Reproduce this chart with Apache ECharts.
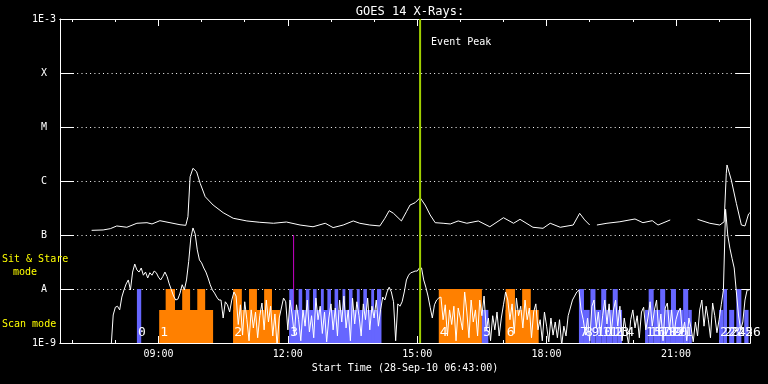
<!DOCTYPE html>
<html><head><meta charset="utf-8">
<script src="https://cdn.jsdelivr.net/npm/echarts@6/dist/echarts.min.js"></script>
<style>html,body{margin:0;padding:0;background:#000;}#c{width:768px;height:384px;}</style>
</head><body><div id="c"></div>
<script>
// ---------------- data ----------------
const chartTitle = 'GOES 14 X-Rays:';
const xAxisName = 'Start Time (28-Sep-10 06:43:00)';
const timeRange = ['06:43', '22:43'];
const hourTicks = ['07:00','08:00','09:00','10:00','11:00','12:00','13:00','14:00','15:00','16:00','17:00','18:00','19:00','20:00','21:00','22:00'];
const majorTicks = ['09:00','12:00','15:00','18:00','21:00'];
const yTickValues = [1e-9, 1e-8, 1e-7, 1e-6, 1e-5, 1e-4, 1e-3];
const yTickLabels = ['1E-9', 'A', 'B', 'C', 'M', 'X', '1E-3'];

// GOES long channel (1-8 A); null = data gap
const longTimes = ['07:27','07:43','07:53','08:02','08:16','08:30','08:44','08:51','09:02','09:16','09:30','09:38','09:41','09:44','09:48','09:53','09:58','10:05','10:16','10:30','10:44','11:03','11:21','11:40','11:58','12:17','12:35','12:52','13:03','13:17','13:31','13:40','13:54','14:08','14:15','14:21','14:27','14:38','14:45','14:50','14:57','15:04','15:11','15:18','15:25','15:36','15:46','15:57','16:09','16:25','16:41','17:00','17:14','17:23','17:41','17:55','18:05','18:19','18:37','18:46','18:53','19:00','19:05','19:10','19:24','19:42','20:03','20:14','20:27','20:35','20:52','21:10','21:30','21:47','22:01','22:07','22:10','22:11','22:17','22:24','22:31','22:36','22:41','22:43'];
const longFlux = [1.22e-7,1.24e-7,1.31e-7,1.47e-7,1.39e-7,1.65e-7,1.69e-7,1.60e-7,1.84e-7,1.69e-7,1.55e-7,1.51e-7,2.18e-7,1.20e-6,1.72e-6,1.49e-6,9.06e-7,5.12e-7,3.59e-7,2.59e-7,2.04e-7,1.82e-7,1.72e-7,1.65e-7,1.74e-7,1.53e-7,1.42e-7,1.65e-7,1.37e-7,1.53e-7,1.82e-7,1.65e-7,1.53e-7,1.47e-7,2.04e-7,2.82e-7,2.52e-7,1.82e-7,2.70e-7,3.59e-7,3.96e-7,4.91e-7,3.59e-7,2.35e-7,1.69e-7,1.65e-7,1.60e-7,1.82e-7,1.65e-7,1.82e-7,1.42e-7,2.09e-7,1.65e-7,1.95e-7,1.39e-7,1.33e-7,1.65e-7,1.39e-7,1.53e-7,2.52e-7,1.90e-7,1.53e-7,null,1.53e-7,1.65e-7,1.76e-7,1.98e-7,1.69e-7,1.84e-7,1.53e-7,1.90e-7,null,1.95e-7,1.65e-7,1.53e-7,1.76e-7,1.39e-6,1.98e-6,1.04e-6,3.86e-7,1.53e-7,1.47e-7,2.45e-7,2.59e-7];

// GOES short channel (0.5-4 A), 3-minute cadence from shortStart
const shortStart = '07:54';
const shortStep = 3;
const shortFlux = [
8e-10,3.3e-9,4.6e-9,4.8e-9,4.1e-9,7.1e-9,9.6e-9,1.24e-8,1.47e-8,9.6e-9,
2.06e-8,2.9e-8,2.25e-8,2.06e-8,2.45e-8,1.8e-8,2.06e-8,1.6e-8,2e-8,1.8e-8,
2.15e-8,2.0e-8,1.66e-8,1.47e-8,1.7e-8,2.06e-8,1.7e-8,1.24e-8,9.6e-9,7.4e-9,
6.25e-9,6.5e-9,8.4e-9,1.2e-8,9.6e-9,1.47e-8,3.2e-8,8.8e-8,1.35e-7,1.05e-7,
5.3e-8,3.45e-8,3.05e-8,2.45e-8,2.06e-8,1.6e-8,1.2e-8,9.6e-9,8.4e-9,7.1e-9,
6.25e-9,6.25e-9,2.9e-9,5.8e-9,5.1e-9,3.75e-9,6.25e-9,8.8e-9,7.4e-9,2.2e-9,
5.1e-9,1.4e-9,5.8e-9,2.7e-9,1.1e-9,4.1e-9,1.9e-9,3.75e-9,1.25e-9,3.2e-9,
5.5e-9,1.75e-9,6.25e-9,2.45e-9,4.8e-9,1.35e-9,3.45e-9,9e-10,2.9e-9,4.45e-9,
6.8e-9,5.8e-9,1.75e-9,6.25e-9,3.3e-9,1.4e-9,5.1e-9,2.7e-9,1.1e-9,4.1e-9,
2.05e-9,6.25e-9,1.6e-9,3.2e-9,1.25e-9,6.8e-9,2.7e-9,4.8e-9,1.5e-9,3.75e-9,
1.05e-9,2.9e-9,5.3e-9,1.75e-9,4.45e-9,1.35e-9,6.25e-9,2.45e-9,7.4e-9,1.9e-9,
4.1e-9,1.1e-9,6.8e-9,2.25e-9,5.8e-9,3.2e-9,1.35e-9,5.3e-9,2.7e-9,6.8e-9,
1.75e-9,4.8e-9,2.9e-9,6.25e-9,2.05e-9,4.1e-9,7.1e-9,6.25e-9,8.8e-9,1.08e-8,
8.8e-9,5.8e-9,1.1e-9,5.3e-9,4.8e-9,5.8e-9,8.8e-9,1.47e-8,1.8e-8,2.0e-8,
2.06e-8,2.15e-8,2.15e-8,2.45e-8,2.45e-8,1.47e-8,1.08e-8,7.4e-9,4.6e-9,2.9e-9,
5.1e-9,6.25e-9,6.8e-9,7.1e-9,2.7e-9,5.1e-9,1.35e-9,4.1e-9,2.2e-9,4.8e-9,
1.1e-9,4.45e-9,2.9e-9,1.75e-9,8.8e-9,3.75e-9,1.25e-9,6.25e-9,2.45e-9,4.1e-9,
1.35e-9,6.25e-9,3.2e-9,7.4e-9,1.75e-9,2.9e-9,1.1e-9,3.2e-9,1.75e-9,3.75e-9,
1.35e-9,2.9e-9,5.1e-9,8.8e-9,6.25e-9,2.7e-9,5.3e-9,1.5e-9,6.8e-9,3.2e-9,
4.8e-9,1.9e-9,6.25e-9,2.7e-9,4.45e-9,1.25e-9,3.75e-9,5.3e-9,1.75e-9,2.7e-9,
1.1e-9,3.75e-9,2.05e-9,1.05e-9,2.9e-9,1.4e-9,2.45e-9,1.25e-9,2.7e-9,9e-10,
2.05e-9,1.35e-9,3.2e-9,4.45e-9,6.25e-9,7.4e-9,8.8e-9,9.6e-9,4.1e-9,2.7e-9,
1.4e-9,2.9e-9,1.1e-9,4.8e-9,6.25e-9,1.9e-9,3.75e-9,1.35e-9,3.2e-9,6.25e-9,
2.25e-9,5.3e-9,1.5e-9,4.1e-9,6.25e-9,2.05e-9,4.8e-9,1.1e-9,2.9e-9,1.6e-9,
9.5e-10,2.7e-9,4.1e-9,1.9e-9,3.2e-9,1.25e-9,3.75e-9,4.6e-9,1.75e-9,2.9e-9,
5.8e-9,2.05e-9,4.1e-9,6.25e-9,1.6e-9,3.45e-9,1.1e-9,4.45e-9,5.5e-9,1.75e-9,
4.1e-9,1.35e-9,2.7e-9,3.75e-9,4.45e-9,1.5e-9,2.45e-9,1.1e-9,2.9e-9,1.9e-9,
1.05e-9,2.45e-9,1.35e-9,4.1e-9,6.25e-9,2.05e-9,4.8e-9,2.7e-9,1.25e-9,5.5e-9,
3.2e-9,1.55e-9,2.7e-9,5.1e-9,9.6e-9,3.0e-7,1.0e-7,5.7e-8,3.7e-8,2.45e-8,
8.8e-9,3.3e-9,1.75e-9,2.45e-9,6.25e-9,9.6e-9,9.6e-9];

// observation segments (kind: 'o' orange, 'b' blue); top = bar height in flux units
const segStart = ['08:30','09:01','09:10','09:33','09:54','10:44','10:44','11:06','11:27','12:02','12:02','12:15','12:25','12:35','12:46','12:55','13:05','13:16','13:25','13:36','13:45','13:56','14:04','15:30','16:30','17:03','17:03','17:26','18:45','18:52','19:01','19:08','19:16','19:23','19:32','19:39','20:17','20:22','20:29','20:38','20:45','20:53','21:00','21:10','21:17','22:00','22:06','22:14','22:24','22:35'];
const segEnd   = ['08:36','10:16','09:23','09:44','10:05','11:49','10:56','11:17','11:38','14:10','12:08','12:20','12:30','12:40','12:50','13:00','13:10','13:20','13:30','13:40','13:50','14:00','14:10','16:30','16:39','17:49','17:16','17:38','18:52','19:00','19:08','19:16','19:23','19:32','19:39','19:45','20:22','20:29','20:38','20:45','20:53','21:00','21:10','21:17','21:22','22:06','22:11','22:21','22:31','22:41'];
const segKind  = ['b','o','o','o','o','o','o','o','o','b','b','b','b','b','b','b','b','b','b','b','b','b','b','o','b','o','o','o','b','b','b','b','b','b','b','b','b','b','b','b','b','b','b','b','b','b','b','b','b','b'];
const segTop   = [1e-8,4.1e-9,1e-8,1e-8,1e-8,4.1e-9,1e-8,1e-8,1e-8,4.1e-9,1e-8,1e-8,1e-8,1e-8,1e-8,1e-8,1e-8,1e-8,1e-8,1e-8,1e-8,1e-8,1e-8,1e-8,4.1e-9,4.1e-9,1e-8,1e-8,1e-8,4.1e-9,1e-8,4.1e-9,1e-8,4.1e-9,1e-8,4.1e-9,4.1e-9,1e-8,4.1e-9,1e-8,4.1e-9,1e-8,4.1e-9,1e-8,4.1e-9,4.1e-9,1e-8,4.1e-9,1e-8,4.1e-9];

const obsLabelText = ['0','1','2','3','4','5','6','7','8','9','10','11','12','13','14','15','16','17','18','19','20','21','22','23','24','25','26'];
const obsLabelTime = ['08:30','09:01','10:44','12:02','15:30','16:30','17:03','18:45','18:52','19:01','19:08','19:16','19:23','19:32','19:39','20:17','20:22','20:29','20:38','20:45','20:53','21:00','22:00','22:06','22:14','22:24','22:35'];

const eventPeakTime = '15:04';
const eventLabel = 'Event Peak';
const markerTime = '12:08';
const markerRange = [1e-7, 1e-9];
const modeLabels = ['Sit & Stare', 'mode', 'Scan mode'];

// ---------------- build ----------------
const FONT = '"DejaVu Sans Mono", monospace';
const WHITE = '#ffffff';
const kindColor = { o: '#ff8000', b: '#6666ff' };
const toMin = s => { const p = s.split(':').map(Number); return p[0] * 60 + p[1]; };
const fmtHM = v => { const h = Math.floor(v / 60), m = Math.round(v - h * 60); return String(h).padStart(2, '0') + ':' + String(m).padStart(2, '0'); };
const xMin = toMin(timeRange[0]), xMax = toMin(timeRange[1]);
const yMin = yTickValues[0], yMax = yTickValues[yTickValues.length - 1];
const hourVals = hourTicks.map(toMin), majorVals = majorTicks.map(toMin);

const longData = longTimes.map((t, i) => [toMin(t), longFlux[i] == null ? '-' : longFlux[i]]);
const shortData = shortFlux.map((v, i) => [toMin(shortStart) + i * shortStep, v]);
const segData = segStart.map((s, i) => [toMin(s), toMin(segEnd[i]), segTop[i]]);
const labelData = obsLabelTime.map(t => [toMin(t), yMin]);

const chart = echarts.init(document.getElementById('c'), null, { renderer: 'canvas' });

function xAx(pos, vals, len, showLabel, extra) {
  return Object.assign({
    type: 'value', position: pos, min: xMin, max: xMax,
    axisLine: { show: true, onZero: false, lineStyle: { color: WHITE, width: 1 } },
    axisTick: { show: true, inside: true, length: len, customValues: vals, lineStyle: { color: WHITE } },
    axisLabel: { show: showLabel, customValues: majorVals, formatter: v => fmtHM(v), color: WHITE, fontFamily: FONT, fontSize: 10, margin: 6 },
    splitLine: { show: false }
  }, extra || {});
}
function yAx(pos, showLabel, showSplit) {
  return {
    type: 'log', logBase: 10, position: pos, min: yMin, max: yMax, splitNumber: 6,
    axisLine: { show: true, lineStyle: { color: WHITE, width: 1 } },
    axisTick: { show: true, inside: true, length: 14, customValues: yTickValues, lineStyle: { color: WHITE } },
    axisLabel: { show: showLabel, customValues: yTickValues, align: 'center', margin: 16, color: WHITE, fontFamily: FONT, fontSize: 10,
      formatter: v => yTickLabels[Math.round(Math.log10(v)) + 9] },
    splitLine: { show: showSplit, lineStyle: { color: WHITE, width: 1, type: [1, 3.3] } },
    minorTick: { show: false }
  };
}

const option = {
  backgroundColor: '#000000',
  animation: false,
  title: { text: chartTitle, left: 405, top: 1, textAlign: 'center',
    textStyle: { color: WHITE, fontFamily: FONT, fontSize: 12, fontWeight: 'normal' } },
  grid: { left: 60, right: 18, top: 19, bottom: 41, containLabel: false, outerBoundsMode: 'none' },
  xAxis: [
    xAx('bottom', hourVals, 3, true, { name: xAxisName, nameLocation: 'middle', nameGap: 20,
      nameTextStyle: { color: WHITE, fontFamily: FONT, fontSize: 10 } }),
    xAx('bottom', majorVals, 7, false),
    xAx('top', hourVals, 3, false),
    xAx('top', majorVals, 7, false)
  ],
  yAxis: [yAx('left', true, true), yAx('right', false, false)],
  series: [
    { name: 'marker', type: 'line', z: 2, symbol: 'none', silent: true,
      data: [[toMin(markerTime), markerRange[0]], [toMin(markerTime), markerRange[1]]],
      lineStyle: { color: '#c800c8', width: 1 } },
    { name: 'observations', type: 'custom', z: 3, silent: true,
      encode: { x: [0, 1], y: 2 },
      data: segData,
      renderItem: (params, api) => {
        const a = api.coord([api.value(0), api.value(2)]);
        const b = api.coord([api.value(1), yMin]);
        return { type: 'rect', shape: { x: a[0], y: a[1], width: b[0] - a[0], height: b[1] - a[1] },
          style: { fill: kindColor[segKind[params.dataIndex]] } };
      } },
    { name: 'long', type: 'line', z: 4, symbol: 'none', silent: true, clip: true,
      data: longData, connectNulls: false, lineStyle: { color: WHITE, width: 1 } },
    { name: 'short', type: 'line', z: 4, symbol: 'none', silent: true, clip: true,
      data: shortData, lineStyle: { color: WHITE, width: 1 } },
    { name: 'labels', type: 'custom', z: 5, silent: true, clip: false,
      encode: { x: 0, y: 1 },
      data: labelData,
      renderItem: (params, api) => {
        const p = api.coord([api.value(0), api.value(1)]);
        return { type: 'text', x: p[0] + 1, y: p[1] - 10,
          style: { text: obsLabelText[params.dataIndex], fill: WHITE, font: '13px ' + FONT, align: 'left', verticalAlign: 'middle' } };
      } },
    { name: 'event', type: 'line', z: 6, symbol: 'none', silent: true,
      data: [[toMin(eventPeakTime), yMin], [toMin(eventPeakTime), yMax]],
      lineStyle: { color: '#a0d000', width: 2 } }
  ]
};
chart.setOption(option);

const ex = chart.convertToPixel({ xAxisIndex: 0 }, toMin(eventPeakTime));
const textStyle = (t, fill) => ({ text: t, fill: fill, font: '10px ' + FONT, align: 'left', verticalAlign: 'middle' });
chart.setOption({
  graphic: [
    { type: 'text', x: ex + 11, y: 42, style: textStyle(eventLabel, WHITE), z: 10 },
    { type: 'text', x: 2, y: 259, style: textStyle(modeLabels[0], '#ffff00'), z: 10 },
    { type: 'text', x: 13, y: 272, style: textStyle(modeLabels[1], '#ffff00'), z: 10 },
    { type: 'text', x: 2, y: 324, style: textStyle(modeLabels[2], '#ffff00'), z: 10 }
  ]
});
</script>
</body></html>
